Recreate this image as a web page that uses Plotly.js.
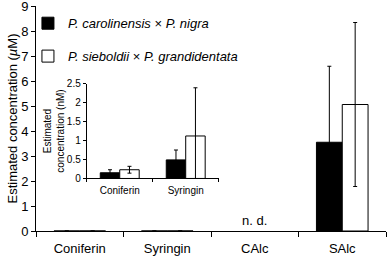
<!DOCTYPE html>
<html>
<head>
<meta charset="utf-8">
<script src="https://cdn.plot.ly/plotly-3.0.1.min.js"></script>
<style>html,body{margin:0;padding:0;background:#fff;}#chart{width:387px;height:256px;}</style>
</head>
<body>
<div id="chart"></div>
<script>
// Main chart (µM)
const mainCats = ['Coniferin', 'Syringin', 'CAlc', 'SAlc'];
const carolMain = [0.00015, 0.00049, null, 3.55];
const carolMainErr = [0.00008, 0.00026, null, 3.04];
const sieMain = [0.00023, 0.00112, null, 5.06];
const sieMainErr = [0.00009, 0.00127, null, 3.28];
// Inset chart (nM)
const insetCats = ['Coniferin', 'Syringin'];
const carolInset = [0.15, 0.49];
const carolInsetErr = [0.08, 0.26];
const sieInset = [0.23, 1.12];
const sieInsetErr = [0.09, 1.27];
const names = ['<i>P. carolinensis</i> × <i>P. nigra</i>', '<i>P. sieboldii</i> × <i>P. grandidentata</i>'];
const mainTicks = [0, 1, 2, 3, 4, 5, 6, 7, 8, 9];
const insetTicks = [0, 0.5, 1, 1.5, 2, 2.5];

const FONT = 'Liberation Sans, Arial, sans-serif';
function err(arr, w) { return {type: 'data', array: arr, visible: true, color: '#000', thickness: 1, width: w}; }

const traces = [
  {type: 'bar', x: mainCats, y: carolMain, name: names[0], legendgroup: 'a',
   marker: {color: '#000', line: {color: '#000', width: 1}}, error_y: err(carolMainErr, 2), xaxis: 'x', yaxis: 'y'},
  {type: 'bar', x: mainCats, y: sieMain, name: names[1], legendgroup: 'b',
   marker: {color: '#fff', line: {color: '#000', width: 1}}, error_y: err(sieMainErr, 2), xaxis: 'x', yaxis: 'y'},
  {type: 'bar', x: insetCats, y: carolInset, name: names[0], showlegend: false,
   marker: {color: '#000', line: {color: '#000', width: 1}}, error_y: err(carolInsetErr, 2), xaxis: 'x2', yaxis: 'y2'},
  {type: 'bar', x: insetCats, y: sieInset, name: names[1], showlegend: false,
   marker: {color: '#fff', line: {color: '#000', width: 1}}, error_y: err(sieInsetErr, 2), xaxis: 'x2', yaxis: 'y2'}
];

const layout = {
  width: 387, height: 256,
  margin: {l: 36, r: 1, t: 6, b: 25},
  paper_bgcolor: '#fff', plot_bgcolor: 'rgba(0,0,0,0)',
  font: {family: FONT, size: 13, color: '#000'},
  barmode: 'group', bargap: 0.41, bargroupgap: 0,
  showlegend: true,
  legend: {x: -0.023, xanchor: 'left', y: 0.99, yanchor: 'top', bgcolor: 'rgba(0,0,0,0)',
           font: {family: FONT, size: 13, color: '#000'}, tracegroupgap: 13, traceorder: 'grouped', itemwidth: 30},
  xaxis: {domain: [0, 1], anchor: 'y', type: 'category', showline: true, linecolor: '#000', linewidth: 1,
          ticks: 'outside', tickson: 'boundaries', ticklen: 5, tickcolor: '#000', showgrid: false, zeroline: false,
          tickfont: {family: FONT, size: 13}, ticklabelstandoff: 5, fixedrange: true},
  yaxis: {domain: [0, 1], anchor: 'x', range: [0, 9.0001], tickvals: mainTicks, showline: true, linecolor: '#000', linewidth: 1,
          ticks: 'outside', ticklen: 4, tickcolor: '#000', showgrid: false, zeroline: false,
          tickfont: {family: FONT, size: 13}, ticklabeloverflow: 'allow',
          title: {text: 'Estimated concentration (<i>µ</i>M)', font: {family: FONT, size: 13}, standoff: 0}},
  xaxis2: {domain: [0.145, 0.522], anchor: 'y2', type: 'category', showline: true, linecolor: '#000', linewidth: 1,
           ticks: 'outside', tickson: 'boundaries', ticklen: 3, tickcolor: '#000', showgrid: false, zeroline: false,
           tickfont: {family: FONT, size: 10}, ticklabelstandoff: 3},
  yaxis2: {domain: [0.2335, 0.655], anchor: 'x2', range: [0, 2.5], tickvals: insetTicks, showline: true, linecolor: '#000', linewidth: 1,
           ticks: 'outside', ticklen: 3, tickcolor: '#000', showgrid: false, zeroline: false,
           tickfont: {family: FONT, size: 10},
           title: {text: 'Estimated<br>concentration (nM)', font: {family: FONT, size: 10}, standoff: 0}},
  annotations: [
    {x: 'CAlc', y: 0, xref: 'x', yref: 'y', text: 'n. d.', showarrow: false, yanchor: 'bottom', yshift: 1,
     font: {family: FONT, size: 13, color: '#000'}}
  ]
};

Plotly.newPlot('chart', traces, layout, {displayModeBar: false, staticPlot: true});
</script>
</body>
</html>
